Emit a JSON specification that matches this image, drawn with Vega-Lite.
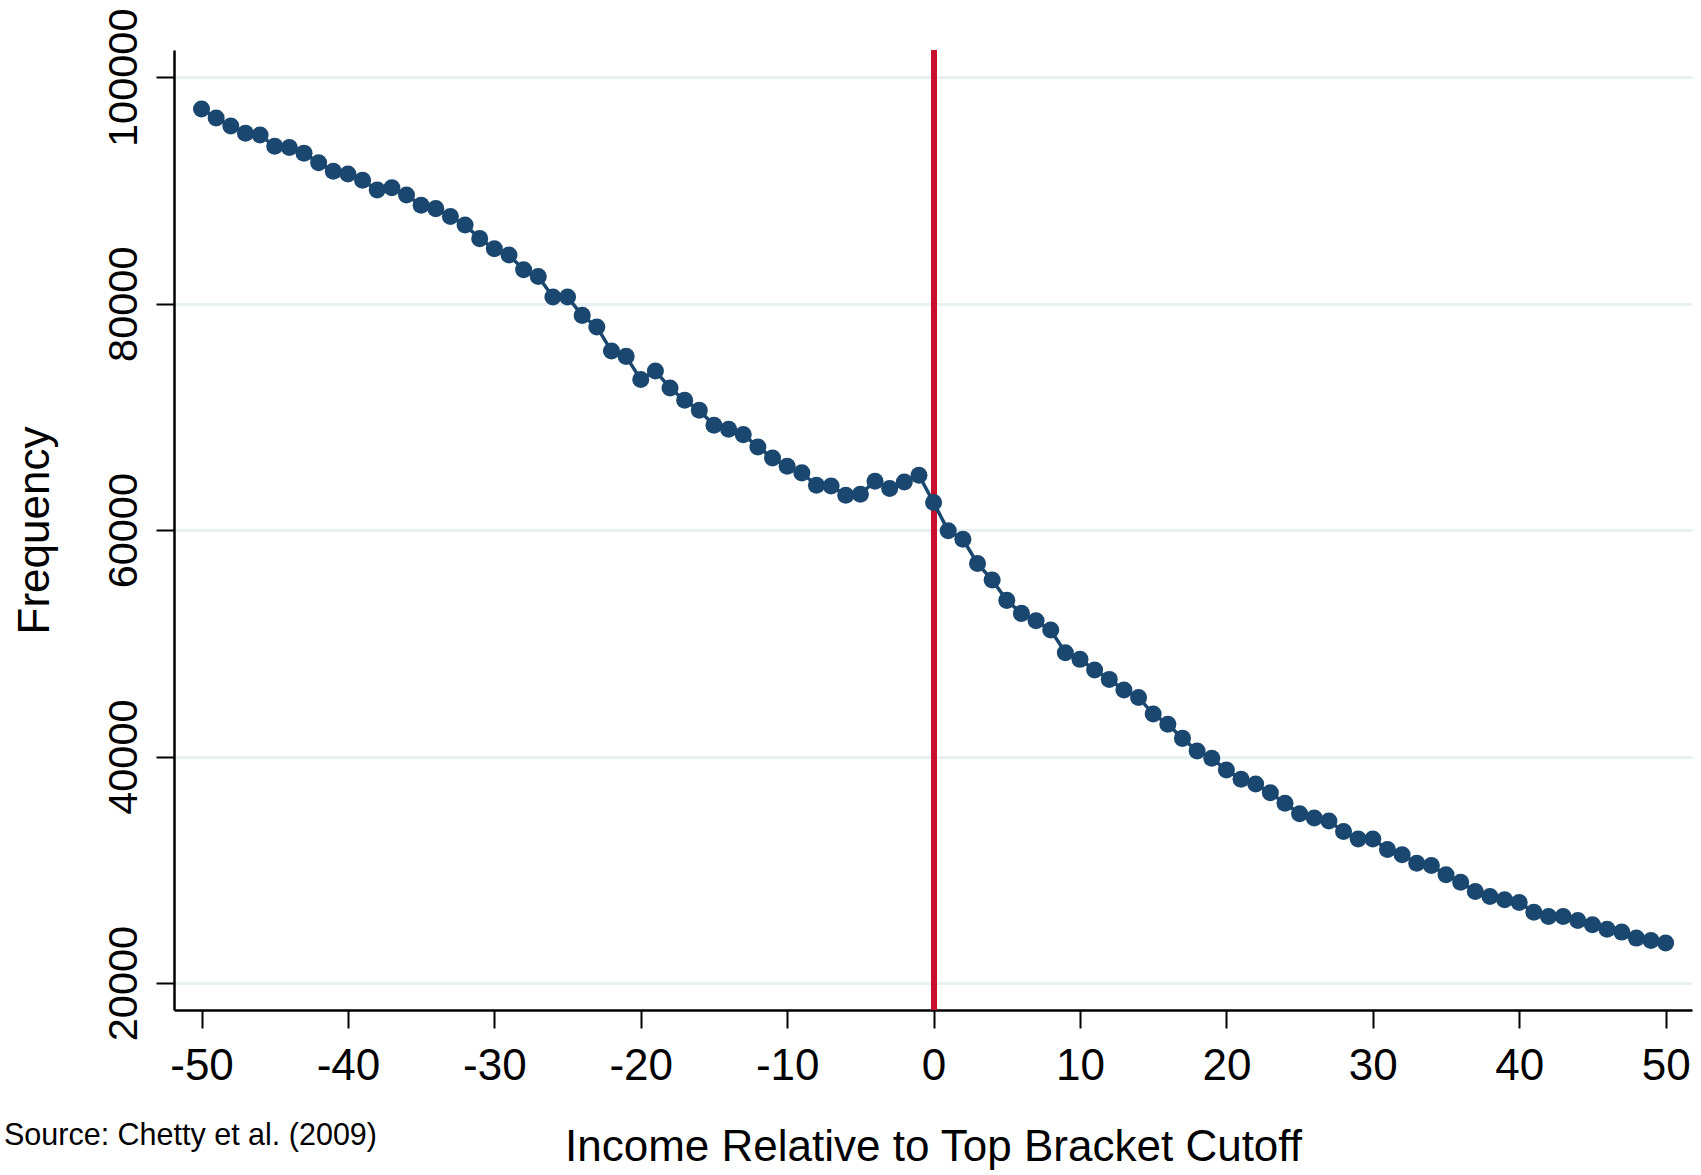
{
  "$schema": "https://vega.github.io/schema/vega-lite/v6.json",
  "width": 1518,
  "height": 960,
  "autosize": "none",
  "padding": {"left": 174, "top": 50, "right": 9, "bottom": 165},
  "background": "white",
  "config": {"view": {"stroke": null}, "font": "Liberation Sans"},
  "title": {
    "text": "Source: Chetty et al. (2009)",
    "orient": "bottom",
    "anchor": "start",
    "frame": "bounds",
    "fontSize": 30.5,
    "fontWeight": "normal",
    "font": "Liberation Sans",
    "color": "black",
    "offset": -48,
    "dx": -9
  },
  "data": {"values": [
    {"x": -50, "y": 97200}, {"x": -49, "y": 96400}, {"x": -48, "y": 95700}, {"x": -47, "y": 95050}, {"x": -46, "y": 94900},
    {"x": -45, "y": 93900}, {"x": -44, "y": 93800}, {"x": -43, "y": 93300}, {"x": -42, "y": 92450}, {"x": -41, "y": 91700},
    {"x": -40, "y": 91450}, {"x": -39, "y": 90900}, {"x": -38, "y": 90050}, {"x": -37, "y": 90250}, {"x": -36, "y": 89600},
    {"x": -35, "y": 88700}, {"x": -34, "y": 88400}, {"x": -33, "y": 87700}, {"x": -32, "y": 86950}, {"x": -31, "y": 85750},
    {"x": -30, "y": 84850}, {"x": -29, "y": 84300}, {"x": -28, "y": 83000}, {"x": -27, "y": 82400}, {"x": -26, "y": 80600},
    {"x": -25, "y": 80600}, {"x": -24, "y": 78970}, {"x": -23, "y": 77950}, {"x": -22, "y": 75820}, {"x": -21, "y": 75350},
    {"x": -20, "y": 73300}, {"x": -19, "y": 74060}, {"x": -18, "y": 72560}, {"x": -17, "y": 71470}, {"x": -16, "y": 70590},
    {"x": -15, "y": 69260}, {"x": -14, "y": 68910}, {"x": -13, "y": 68440}, {"x": -12, "y": 67350}, {"x": -11, "y": 66380},
    {"x": -10, "y": 65650}, {"x": -9, "y": 65060}, {"x": -8, "y": 63970}, {"x": -7, "y": 63910}, {"x": -6, "y": 63090},
    {"x": -5, "y": 63180}, {"x": -4, "y": 64320}, {"x": -3, "y": 63680}, {"x": -2, "y": 64260}, {"x": -1, "y": 64850},
    {"x": 0, "y": 62440}, {"x": 1, "y": 59950}, {"x": 2, "y": 59200}, {"x": 3, "y": 57060}, {"x": 4, "y": 55590},
    {"x": 5, "y": 53800}, {"x": 6, "y": 52650}, {"x": 7, "y": 52000}, {"x": 8, "y": 51180}, {"x": 9, "y": 49180},
    {"x": 10, "y": 48590}, {"x": 11, "y": 47650}, {"x": 12, "y": 46820}, {"x": 13, "y": 45880}, {"x": 14, "y": 45230},
    {"x": 15, "y": 43760}, {"x": 16, "y": 42850}, {"x": 17, "y": 41610}, {"x": 18, "y": 40500}, {"x": 19, "y": 39850},
    {"x": 20, "y": 38820}, {"x": 21, "y": 38000}, {"x": 22, "y": 37580}, {"x": 23, "y": 36800}, {"x": 24, "y": 35880},
    {"x": 25, "y": 34960}, {"x": 26, "y": 34580}, {"x": 27, "y": 34320}, {"x": 28, "y": 33380}, {"x": 29, "y": 32720},
    {"x": 30, "y": 32720}, {"x": 31, "y": 31800}, {"x": 32, "y": 31330}, {"x": 33, "y": 30590}, {"x": 34, "y": 30380},
    {"x": 35, "y": 29560}, {"x": 36, "y": 28910}, {"x": 37, "y": 28090}, {"x": 38, "y": 27650}, {"x": 39, "y": 27350},
    {"x": 40, "y": 27120}, {"x": 41, "y": 26260}, {"x": 42, "y": 25880}, {"x": 43, "y": 25880}, {"x": 44, "y": 25530},
    {"x": 45, "y": 25150}, {"x": 46, "y": 24760}, {"x": 47, "y": 24500}, {"x": 48, "y": 23970}, {"x": 49, "y": 23760},
    {"x": 50, "y": 23530}
  ]},
  "encoding": {
    "x": {
      "field": "x", "type": "quantitative",
      "scale": {"domain": [-51.88, 51.8], "nice": false, "zero": false},
      "axis": {
        "title": "Income Relative to Top Bracket Cutoff",
        "values": [-50, -40, -30, -20, -10, 0, 10, 20, 30, 40, 50],
        "labelExpr": "'' + datum.value",
        "grid": false,
        "domainColor": "black", "domainWidth": 2.5,
        "tickColor": "black", "tickWidth": 2, "tickSize": 18,
        "labelFont": "Liberation Sans", "labelFontSize": 44, "labelColor": "black", "labelPadding": 16,
        "labelFlush": false, "labelOverlap": false,
        "titleFont": "Liberation Sans", "titleFontSize": 44, "titleFontWeight": "normal", "titleColor": "black",
        "titlePadding": 37
      }
    },
    "y": {
      "field": "y", "type": "quantitative",
      "scale": {"domain": [17620, 102410], "nice": false, "zero": false},
      "axis": {
        "title": "Frequency",
        "values": [20000, 40000, 60000, 80000, 100000],
        "format": "d",
        "grid": true, "gridColor": "#e8f1f2", "gridWidth": 3,
        "domainColor": "black", "domainWidth": 2.5,
        "tickColor": "black", "tickWidth": 2, "tickSize": 18,
        "labelAngle": -90, "labelAlign": "center", "labelBaseline": "bottom",
        "labelFont": "Liberation Sans", "labelFontSize": 41.5, "labelColor": "black", "labelPadding": 11,
        "labelFlush": false, "labelOverlap": false,
        "titleFont": "Liberation Sans", "titleFontSize": 44, "titleFontWeight": "normal", "titleColor": "black",
        "titlePadding": 46
      }
    }
  },
  "layer": [
    {
      "mark": {"type": "rule", "color": "#c8102e", "strokeWidth": 5},
      "encoding": {"x": {"datum": 0}, "y": {"value": 0}, "y2": {"value": 960}}
    },
    {
      "mark": {"type": "line", "color": "#1a476f", "strokeWidth": 3.5},
      "encoding": {}
    },
    {
      "mark": {"type": "circle", "color": "#1a476f", "opacity": 1},
      "encoding": {"size": {"value": 290}}
    }
  ]
}
